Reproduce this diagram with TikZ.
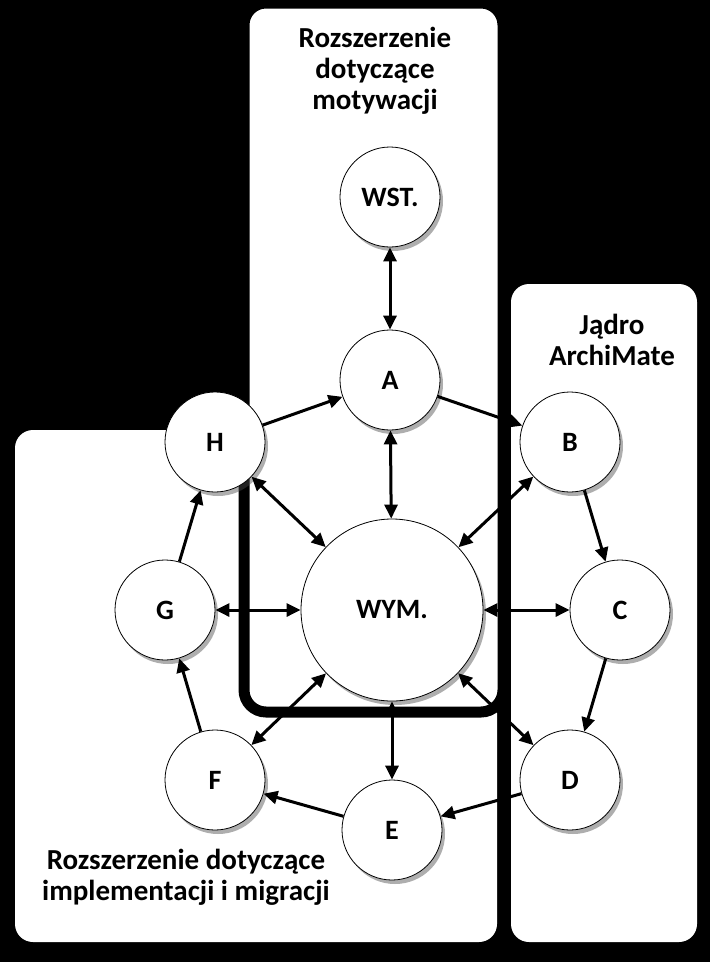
\documentclass[tikz,border=0pt]{standalone}
\usepackage{fontspec}
\setmainfont{Carlito}
\usetikzlibrary{arrows.meta,shadows}
\begin{document}
\begin{tikzpicture}[x=1pt,y=-1pt,
  circ/.style={circle,draw=black,line width=0.8pt,fill=white,minimum size=100pt,inner sep=0pt,
    font=\bfseries\fontsize{28}{32}\selectfont,
    drop shadow={shadow xshift=3pt,shadow yshift=-4pt,opacity=0.45,fill=black!70}},
  bigcirc/.style={circ,minimum size=182pt},
  tip/.tip={Triangle[length=14pt,width=13pt]},
  arr/.style={line width=3pt,-tip},
  darr/.style={line width=3pt,tip-tip},
  boxtitle/.style={align=center,font=\bfseries\fontsize{29}{31}\selectfont}]
\fill[black] (0,0) rectangle (710,962);
\useasboundingbox (0,0) rectangle (710,962);
% boxes
\fill[white,rounded corners=18pt] (15,430) rectangle (497,942);
\fill[white,rounded corners=18pt] (511,284) rectangle (697,942);
\draw[black,line width=11pt,fill=white,rounded corners=22pt] (244,3) rectangle (503,712);
% titles
\node[boxtitle] (tmot) at (375,71) {Rozszerzenie\\dotyczące\\motywacji};
\node[boxtitle] (tcore) at (612,340) {Jądro\\ArchiMate};
\node[boxtitle] (timp) at (186,877) {Rozszerzenie dotyczące\\implementacji i migracji};
% circles
\node[circ] (WST) at (390,197) {WST.};
\node[circ] (A) at (390,380) {A};
\node[circ] (B) at (570,442) {B};
\node[circ] (C) at (620,610) {C};
\node[circ] (D) at (570,780) {D};
\node[circ] (E) at (392,830) {E};
\node[circ] (F) at (215,780) {F};
\node[circ] (G) at (165,610) {G};
\node[circ] (H) at (215,442) {H};
\node[bigcirc] (W) at (392,610) {WYM.};
% arrows
\draw[darr] (WST) -- (A);
\draw[darr] (A) -- (W);
\draw[arr] (H) -- (A);
\draw[arr] (A) -- (B);
\draw[arr] (B) -- (C);
\draw[arr] (C) -- (D);
\draw[arr] (D) -- (E);
\draw[arr] (E) -- (F);
\draw[arr] (F) -- (G);
\draw[arr] (G) -- (H);
\foreach \n in {B,C,D,E,F,G,H}
  \draw[darr] (W) -- (\n);
\end{tikzpicture}
\end{document}
